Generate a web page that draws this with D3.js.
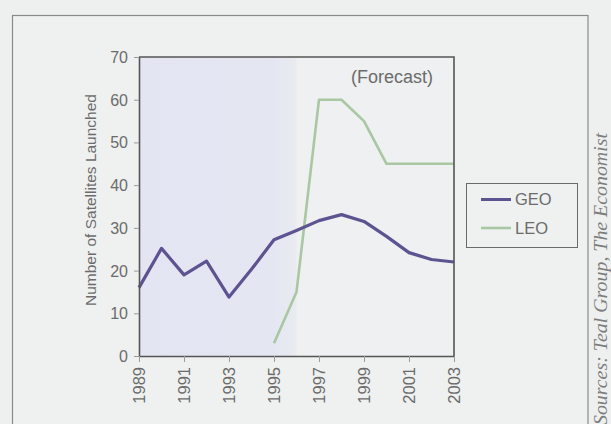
<!DOCTYPE html>
<html>
<head>
<meta charset="utf-8">
<script src="https://cdn.jsdelivr.net/npm/d3@7"></script>
<style>
  html, body { margin: 0; padding: 0; background: #eef0ef; }
  svg { display: block; }
  text { font-family: "Liberation Sans", Arial, sans-serif; fill: #6b6b6b; }
  text.source { font-family: "Liberation Serif", "Times New Roman", serif; font-style: italic; fill: #7c7c7c; }
</style>
</head>
<body>
<svg id="chart" width="611" height="424"></svg>
<script>
// Satellites launched per year: geostationary (GEO) vs low-earth-orbit (LEO)
const years = [1989, 1990, 1991, 1992, 1993, 1994, 1995, 1996, 1997, 1998, 1999, 2000, 2001, 2002, 2003];
const geoValues = [16, 25.2, 19, 22.2, 13.8, 20.3, 27.2, 29.4, 31.7, 33.1, 31.5, 28, 24.2, 22.6, 22];
const leoYears = [1995, 1996, 1997, 1998, 1999, 2000, 2001, 2002, 2003];
const leoValues = [3, 15, 60, 60, 55, 45, 45, 45, 45];
const yTicks = [0, 10, 20, 30, 40, 50, 60, 70];
const xTicks = [1989, 1991, 1993, 1995, 1997, 1999, 2001, 2003];
const historyEnd = 1996; // shaded span covers actual launches, the rest is forecast

const svg = d3.select("#chart");

// outer frame
svg.append("rect")
  .attr("x", 12.5).attr("y", 15.5)
  .attr("width", 575.5).attr("height", 440)
  .attr("fill", "#eff1f0")
  .attr("stroke", "#8a8a8a").attr("stroke-width", 1.2);

const m = { left: 139, right: 454, top: 57, bottom: 356 };
const x = d3.scaleLinear().domain([1989, 2003]).range([m.left, m.right]);
const y = d3.scaleLinear().domain([0, 70]).range([m.bottom, m.top]);

// plot background
svg.append("rect")
  .attr("x", m.left).attr("y", m.top)
  .attr("width", m.right - m.left).attr("height", m.bottom - m.top)
  .attr("fill", "#eef0f1");

const defs = svg.append("defs");
const grad = defs.append("linearGradient").attr("id", "hist").attr("x1", 0).attr("x2", 1);
grad.append("stop").attr("offset", 0).attr("stop-color", "#e3e5f2");
grad.append("stop").attr("offset", 0.85).attr("stop-color", "#e4e6f2");
grad.append("stop").attr("offset", 1).attr("stop-color", "#e9ebf1");

svg.append("rect")
  .attr("x", m.left).attr("y", m.top)
  .attr("width", x(historyEnd) - m.left).attr("height", m.bottom - m.top)
  .attr("fill", "url(#hist)");

// lines
const line = d3.line().x(d => x(d[0])).y(d => y(d[1]));

svg.append("path")
  .datum(leoYears.map((yr, i) => [yr, leoValues[i]]))
  .attr("d", line)
  .attr("fill", "none")
  .attr("stroke", "#a9c7a2")
  .attr("stroke-width", 2.6)
  .attr("stroke-linejoin", "round");

svg.append("path")
  .datum(years.map((yr, i) => [yr, geoValues[i]]))
  .attr("d", line)
  .attr("fill", "none")
  .attr("stroke", "#5d5391")
  .attr("stroke-width", 3.2)
  .attr("stroke-linejoin", "round");

// frame top and right
svg.append("path")
  .attr("d", `M${m.left},${m.top}H${m.right}V${m.bottom}`)
  .attr("fill", "none").attr("stroke", "#555").attr("stroke-width", 1.6);

// axes
const yAxis = svg.append("g")
  .attr("transform", `translate(${m.left},0)`)
  .call(d3.axisLeft(y).tickValues(yTicks).tickSize(5).tickSizeOuter(0).tickPadding(6));
const xAxis = svg.append("g")
  .attr("transform", `translate(0,${m.bottom})`)
  .call(d3.axisBottom(x).tickValues(xTicks).tickFormat(d3.format("d")).tickSize(6).tickSizeOuter(0));

[yAxis, xAxis].forEach(g => {
  g.select(".domain").attr("stroke", "#555").attr("stroke-width", 1.6);
  g.selectAll(".tick line").attr("stroke", "#9a9a9a");
  g.selectAll(".tick text").attr("fill", "#6b6b6b");
});

yAxis.selectAll(".tick text").attr("font-size", 16).attr("dy", "0.34em");

xAxis.selectAll(".tick text")
  .attr("font-size", 16.5)
  .attr("text-anchor", "end")
  .attr("transform", "rotate(-90)")
  .attr("x", -11).attr("y", 0).attr("dy", "0.36em");

// axis title
svg.append("text")
  .attr("transform", `translate(96,200) rotate(-90)`)
  .attr("text-anchor", "middle")
  .attr("font-size", 15.5)
  .text("Number of Satellites Launched");

// forecast note
svg.append("text")
  .attr("x", 433).attr("y", 83)
  .attr("text-anchor", "end")
  .attr("font-size", 18)
  .text("(Forecast)");

// legend
const legend = svg.append("g");
legend.append("rect")
  .attr("x", 466.5).attr("y", 183.5).attr("width", 111).attr("height", 64)
  .attr("fill", "none").attr("stroke", "#6a6a6a").attr("stroke-width", 1);
const legendItems = [["GEO", "#5d5391", 3], ["LEO", "#a9c7a2", 2.6]];
legendItems.forEach(([name, color, w], i) => {
  const ly = 199.5 + i * 28.5;
  legend.append("line")
    .attr("x1", 481).attr("x2", 511).attr("y1", ly).attr("y2", ly)
    .attr("stroke", color).attr("stroke-width", w);
  legend.append("text")
    .attr("x", 515).attr("y", ly).attr("dy", "0.36em")
    .attr("font-size", 16.5)
    .text(name);
});

// source credit
svg.append("text")
  .attr("class", "source")
  .attr("transform", "translate(607,425) rotate(-90)")
  .attr("font-size", 19.5)
  .attr("textLength", 292)
  .attr("lengthAdjust", "spacingAndGlyphs")
  .text("Sources: Teal Group, The Economist");
</script>
</body>
</html>
